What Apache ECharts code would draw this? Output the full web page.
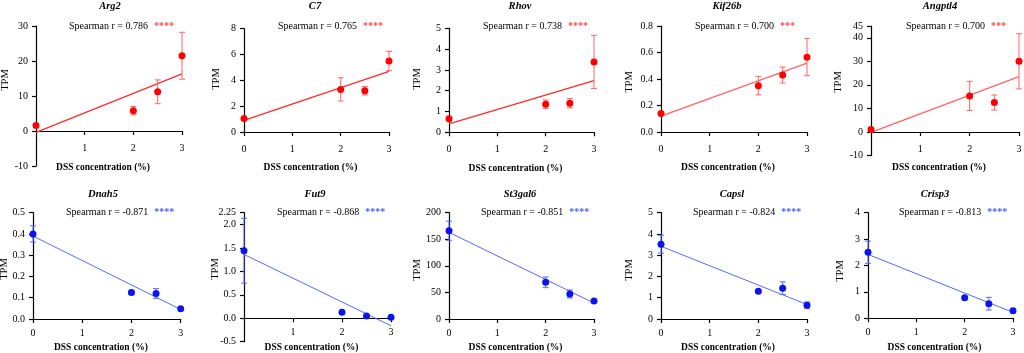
<!DOCTYPE html>
<html>
<head>
<meta charset="utf-8">
<script src="https://cdn.jsdelivr.net/npm/echarts@6/dist/echarts.min.js"></script>
<style>
  html, body { margin: 0; padding: 0; background: #fff; }
  #chart { width: 1024px; height: 353px; }
</style>
</head>
<body>
<div id="chart"></div>
<script>
// DSS concentration (%) for every panel
const doses = [0, 2, 2.5, 3];
const fitX = [0, 3];

const genes = ['Arg2', 'C7', 'Rhov', 'Kif26b', 'Angptl4', 'Dnah5', 'Fut9', 'St3gal6', 'Capsl', 'Crisp3'];
const spearman = ['0.786', '0.765', '0.738', '0.700', '0.700', '-0.871', '-0.868', '-0.851', '-0.824', '-0.813'];
const stars = ['****', '****', '****', '***', '***', '****', '****', '****', '****', '****'];

// mean TPM, sd, and fitted line (y at x=0 and x=3)
const arg2Mean = [1.6, 5.8, 11.2, 21.5];
const arg2Sd = [0, 1.2, 3.4, 6.7];
const arg2Fit = [-0.4, 16.3];

const c7Mean = [1.05, 3.3, 3.2, 5.5];
const c7Sd = [0, 0.9, 0.33, 0.75];
const c7Fit = [0.9, 4.7];

const rhovMean = [0.65, 1.35, 1.4, 3.38];
const rhovSd = [0, 0.2, 0.22, 1.28];
const rhovFit = [0.4, 2.48];

const kif26bMean = [0.14, 0.35, 0.43, 0.565];
const kif26bSd = [0, 0.07, 0.06, 0.14];
const kif26bFit = [0.12, 0.52];

const angptl4Mean = [1, 15.3, 12.5, 30];
const angptl4Sd = [0, 6.2, 3.2, 11.7];
const angptl4Fit = [-0.2, 23.5];

const dnah5Mean = [0.40, 0.125, 0.12, 0.048];
const dnah5Sd = [0.038, 0.01, 0.023, 0];
const dnah5Fit = [0.39, 0.045];

const fut9Mean = [1.44, 0.13, 0.05, 0.02];
const fut9Sd = [0.69, 0, 0, 0];
const fut9Fit = [1.36, -0.16];

const st3gal6Mean = [166, 69, 47, 34];
const st3gal6Sd = [18, 10, 7.5, 2];
const st3gal6Fit = [163, 30];

const capslMean = [3.52, 1.3, 1.45, 0.65];
const capslSd = [0.42, 0, 0.3, 0.15];
const capslFit = [3.42, 0.68];

const crisp3Mean = [2.5, 0.78, 0.55, 0.28];
const crisp3Sd = [0.42, 0, 0.24, 0.04];
const crisp3Fit = [2.42, 0.22];

const means = [arg2Mean, c7Mean, rhovMean, kif26bMean, angptl4Mean, dnah5Mean, fut9Mean, st3gal6Mean, capslMean, crisp3Mean];
const sds = [arg2Sd, c7Sd, rhovSd, kif26bSd, angptl4Sd, dnah5Sd, fut9Sd, st3gal6Sd, capslSd, crisp3Sd];
const fits = [arg2Fit, c7Fit, rhovFit, kif26bFit, angptl4Fit, dnah5Fit, fut9Fit, st3gal6Fit, capslFit, crisp3Fit];

// y axis ticks
const yMin = [-10, 0, 0, 0, -10, 0, -0.5, 0, 0, 0];
const yMax = [30, 8, 5, 0.8, 45, 0.5, 2.25, 200, 5, 4];
const yStep = [10, 2, 1, 0.2, 10, 0.1, 0.5, 50, 1, 1];
const yDec = [0, 0, 0, 1, 0, 1, 1, 0, 0, 0];

// layout (px)
const grids = [
  [36, 26, 146, 140], [244, 28.7, 145, 103.3], [449, 28.3, 145, 104], [661, 26, 146, 106], [871, 26, 148, 129.5],
  [33, 212.7, 147.7, 106.3], [244, 212.7, 147, 129], [449, 212.7, 145, 106.3], [661, 212.7, 146, 106.3], [868, 212.7, 145, 105.5]
];
const titleX = [110, 315, 520, 727, 940, 103, 315, 520, 732, 935];
const spearX = [69, 278, 483, 695, 906, 66, 277, 481, 693, 899];
const tpmX = [5, 216, 417, 629, 838, 4, 215, 417, 629, 840];
const tpmY = [80, 79, 79, 82, 82, 269, 269, 270, 270, 271];
const nameGap = [32, 31, 31, 31, 31, 24, 24, 24, 24, 24];

const FONT = '"Liberation Serif", "Times New Roman", serif';
const RED = '#ff0000', RED_LIGHT = '#ff6464', RED_LINE = '#ff2a2a';
const BLUE = '#0a14f0', BLUE_LIGHT = '#5a6aff';

function errRender(params, api) {
  const x = api.value(0);
  const a = api.coord([x, api.value(1)]);
  const b = api.coord([x, api.value(2)]);
  const w = 3;
  const style = { stroke: api.visual('color'), lineWidth: 1 };
  return {
    type: 'group',
    children: [
      { type: 'line', shape: { x1: a[0], y1: a[1], x2: b[0], y2: b[1] }, style },
      { type: 'line', shape: { x1: a[0] - w, y1: a[1], x2: a[0] + w, y2: a[1] }, style },
      { type: 'line', shape: { x1: b[0] - w, y1: b[1], x2: b[0] + w, y2: b[1] }, style }
    ]
  };
}

const axisLine = { show: true, onZero: false, lineStyle: { color: '#000', width: 1.2 } };
const axisTick = { show: true, length: 4, lineStyle: { color: '#000', width: 1.2 } };

const grid = [], xAxis = [], yAxis = [], series = [], graphic = [];

genes.forEach((g, i) => {
  const top = i < 5;
  const hasNeg = yMin[i] < 0;
  const [gl, gt, gw, gh] = grids[i];
  grid.push({ left: gl, top: gt, width: gw, height: gh, outerBoundsMode: 'none', containLabel: false });

  // x axis sits on y = 0: lift it from the grid bottom by the height of the negative part
  const lift = hasNeg ? -gh * (0 - yMin[i]) / (yMax[i] - yMin[i]) : 0;

  xAxis.push({
    gridIndex: i, type: 'value', min: 0, max: 3, interval: 1, offset: lift,
    axisLine, axisTick, splitLine: { show: false },
    axisLabel: { color: '#000', fontFamily: FONT, fontSize: 10, margin: top ? 12 : 9, showMinLabel: !hasNeg },
    name: 'DSS concentration (%)', nameLocation: 'middle', nameGap: nameGap[i], nameMoveOverlap: false,
    nameTextStyle: { color: '#000', fontFamily: FONT, fontSize: 9.5, fontWeight: 'bold', padding: [0, 12, 0, 0] }
  });

  yAxis.push({
    gridIndex: i, type: 'value', min: yMin[i], max: yMax[i], interval: yStep[i],
    axisLine, axisTick, splitLine: { show: false },
    axisLabel: {
      color: '#000', fontFamily: FONT, fontSize: 10, margin: 8,
      formatter: v => (Math.abs(v * 10 - Math.round(v * 10)) > 1e-6 ? v.toFixed(2) : v.toFixed(yDec[i]))
    }
  });

  const m = means[i], s = sds[i];
  series.push({
    type: 'line', xAxisIndex: i, yAxisIndex: i, z: 2,
    data: fitX.map((x, k) => [x, fits[i][k]]),
    showSymbol: false, silent: true,
    lineStyle: { color: top ? (i < 3 ? RED_LINE : RED_LIGHT) : BLUE_LIGHT, width: top ? 1.3 : 1 }
  });
  series.push({
    type: 'custom', xAxisIndex: i, yAxisIndex: i, z: 3, clip: false,
    itemStyle: { color: top ? RED_LIGHT : BLUE_LIGHT },
    renderItem: errRender,
    encode: { x: 0, y: [1, 2] },
    data: doses.map((d, j) => [d, m[j] - s[j], m[j] + s[j]]).filter((r, j) => s[j] > 0)
  });
  series.push({
    type: 'scatter', xAxisIndex: i, yAxisIndex: i, z: 4,
    symbolSize: 7, itemStyle: { color: top ? RED : BLUE, opacity: 1 },
    data: doses.map((d, j) => [d, m[j]])
  });

  graphic.push({
    type: 'text', x: titleX[i], y: top ? 6 : 194,
    style: { text: g, font: 'italic bold 10.5px ' + FONT, fill: '#000', align: 'center', verticalAlign: 'middle' }
  });
  graphic.push({
    type: 'text', x: spearX[i], y: top ? 26 : 212.5,
    style: {
      text: '{a|Spearman r = ' + spearman[i] + '}{b|' + stars[i] + '}',
      align: 'left', verticalAlign: 'middle',
      rich: {
        a: { font: '10px ' + FONT, fill: '#000' },
        b: { font: 'bold 10px ' + FONT, fill: top ? '#ff4a4a' : '#4a5cff', padding: [0, 0, 0, 6] }
      }
    }
  });
  graphic.push({
    type: 'text', x: tpmX[i], y: tpmY[i], rotation: Math.PI / 2,
    style: { text: 'TPM', font: '10.5px ' + FONT, fill: '#000', align: 'center', verticalAlign: 'middle' }
  });
});

const chart = echarts.init(document.getElementById('chart'), null, { renderer: 'canvas' });
chart.setOption({
  animation: false,
  backgroundColor: '#fff',
  grid, xAxis, yAxis, series, graphic
});
</script>
</body>
</html>
